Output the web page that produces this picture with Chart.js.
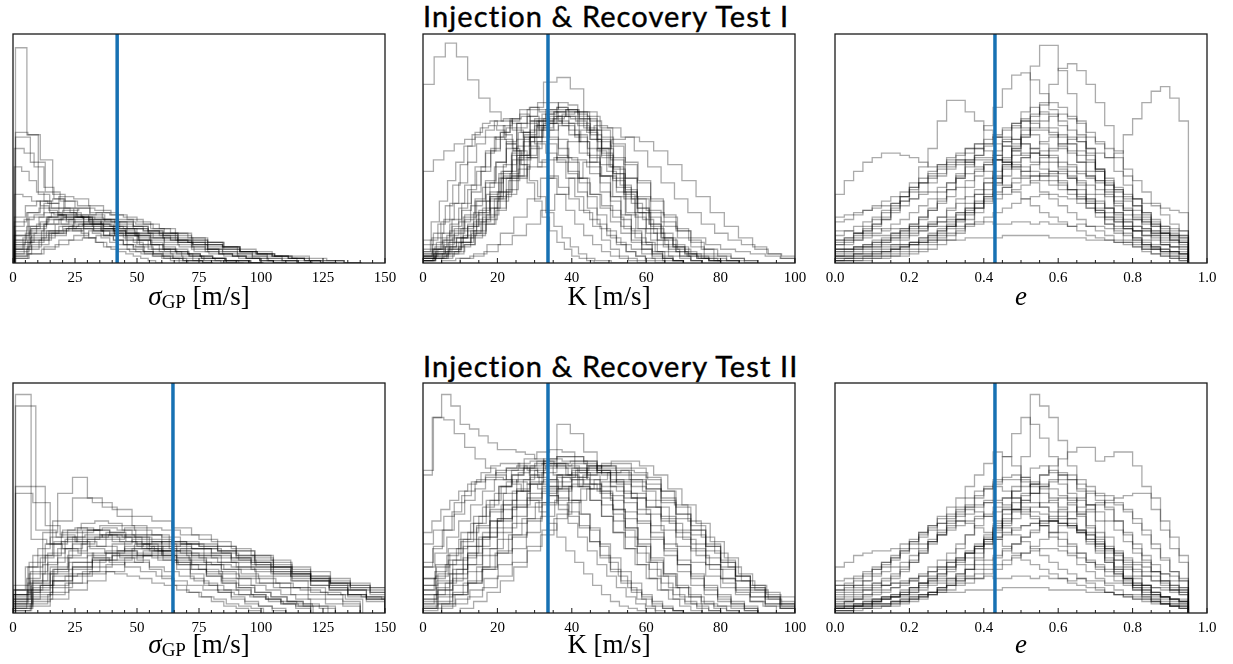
<!DOCTYPE html>
<html lang="en">
<head>
<meta charset="UTF-8">
<title>Injection &amp; Recovery Tests</title>
<script src="https://cdn.jsdelivr.net/npm/chart.js"></script>
<style>
    body { margin: 0; background: #fff; }
    .page { position: relative; width: 1233px; height: 664px; overflow: hidden; }
    .title {
        position: absolute;
        left: 423px;
        font-family: Lato, 'Noto Sans', sans-serif;
        font-size: 29px;
        letter-spacing: 1.1px;
        -webkit-text-stroke: 0.4px #000;
        line-height: 1;
        color: #000;
        white-space: nowrap;
    }
    canvas { position: absolute; }
    .xlabel {
        position: absolute;
        width: 372px;
        text-align: center;
        font-family: 'Liberation Serif', 'DejaVu Serif', serif;
        font-size: 27px;
        line-height: 1;
        color: #000;
    }
    .xlabel sub { font-size: 19px; vertical-align: -3px; }
</style>
</head>
<body>
<div class="page">
    <div class="title" style="top:1px">Injection &amp; Recovery Test I</div>
    <div class="title" style="top:351px">Injection &amp; Recovery Test II</div>

    <canvas id="sigma1" width="420" height="263" style="left:-11px;top:30px"></canvas>
    <canvas id="k1" width="420" height="263" style="left:399px;top:30px"></canvas>
    <canvas id="ecc1" width="420" height="263" style="left:811px;top:30px"></canvas>
    <canvas id="sigma2" width="420" height="264" style="left:-11px;top:379px"></canvas>
    <canvas id="k2" width="420" height="264" style="left:399px;top:379px"></canvas>
    <canvas id="ecc2" width="420" height="264" style="left:811px;top:379px"></canvas>

    <div class="xlabel" style="left:13px;top:283px"><i>σ</i><sub>GP</sub> [m/s]</div>
    <div class="xlabel" style="left:423px;top:283px">K [m/s]</div>
    <div class="xlabel" style="left:835px;top:283px"><i>e</i></div>
    <div class="xlabel" style="left:13px;top:631px"><i>σ</i><sub>GP</sub> [m/s]</div>
    <div class="xlabel" style="left:423px;top:631px">K [m/s]</div>
    <div class="xlabel" style="left:835px;top:631px"><i>e</i></div>
</div>
<script>
    // injected values (blue lines)
    const sigmaTrue = [42, 64.5];
    const kTrue = [33.6, 33.6];
    const eccTrue = [0.43, 0.43];

    // tick labels
    const sigmaTicks = [0, 25, 50, 75, 100, 125, 150];
    const kTicks = [0, 20, 40, 60, 80, 100];
    const eccTicks = ['0.0', '0.2', '0.4', '0.6', '0.8', '1.0'];

    // posterior histograms, heights in % of panel height; each row has its own [lo, hi] range
    const sigma1Ranges = [[1, 93], [1, 101], [1, 121], [0.5, 80.5], [0.5, 120.5], [0.5, 130.5], [1, 101], [0.5, 110.5], [0.5, 140.5],
        [0.5, 90.5], [0.5, 120.5], [0.5, 100.5], [0.5, 130.5], [0.5, 80.5], [0.5, 110.5], [0.5, 70.5], [0.5, 140.5], [0.5, 60.5],
        [0.5, 100.5], [0.5, 120.5], [0.5, 90.5], [0.5, 110.5], [0.5, 130.5], [0.5, 80.5], [0.5, 100.5], [0.5, 140.5], [0.5, 70.5], [0.5, 120.5]];
    const sigma1Counts = [
        [94, 56, 30, 22, 17, 14, 11, 9, 7, 6, 5, 4, 3, 2, 2, 1, 1, 1, 0, 0],
        [57, 56, 45, 30, 24, 20, 17, 14, 12, 10, 8, 6, 5, 4, 3, 2, 2, 1, 1, 0],
        [55, 44, 31, 27, 24, 21, 18, 15, 12, 10, 8, 7, 5, 4, 3, 2, 2, 1, 1, 0],
        [50, 48, 42, 33, 28, 24, 20, 17, 14, 12, 10, 8, 6, 5, 4, 3, 2, 1, 1, 0],
        [12, 20, 26, 29, 28, 25, 22, 19, 16, 13, 11, 9, 7, 5, 4, 3, 2, 1, 1, 0],
        [8, 15, 20, 23, 24, 23, 21, 19, 17, 15, 13, 11, 9, 7, 5, 4, 3, 2, 1, 0],
        [14, 22, 27, 28, 27, 25, 22, 19, 16, 13, 10, 8, 6, 5, 3, 2, 2, 1, 0, 0],
        [6, 10, 14, 17, 19, 21, 22, 21, 20, 18, 15, 13, 10, 8, 6, 4, 3, 2, 1, 0],
        [4, 8, 12, 15, 17, 18, 18, 17, 15, 13, 11, 9, 7, 5, 4, 3, 2, 1, 1, 0],
        [20, 25, 27, 26, 24, 22, 20, 17, 15, 12, 10, 8, 6, 5, 4, 3, 2, 1, 1, 0],
        [10, 14, 17, 19, 20, 20, 19, 17, 15, 13, 11, 9, 8, 6, 5, 4, 3, 2, 1, 0],
        [3, 6, 10, 13, 15, 16, 16, 15, 14, 12, 10, 8, 6, 5, 4, 3, 2, 1, 1, 0],
        [7, 11, 14, 16, 17, 17, 16, 15, 14, 13, 12, 10, 9, 7, 6, 5, 3, 2, 1, 0],
        [16, 19, 21, 22, 21, 20, 18, 16, 14, 12, 10, 8, 7, 5, 4, 3, 2, 1, 1, 0],
        [2, 4, 6, 8, 10, 11, 12, 13, 13, 12, 11, 10, 9, 7, 6, 4, 3, 2, 1, 0],
        [30, 29, 27, 25, 23, 21, 19, 17, 15, 13, 11, 9, 8, 6, 5, 4, 3, 2, 1, 0],
        [9, 12, 14, 15, 15, 14, 13, 12, 11, 10, 9, 8, 6, 5, 4, 3, 2, 1, 1, 0],
        [42, 40, 36, 31, 27, 24, 21, 18, 15, 13, 11, 9, 7, 6, 5, 4, 3, 2, 1, 0],
        [10, 16, 20, 22, 22, 21, 19, 17, 15, 13, 11, 9, 7, 6, 4, 3, 2, 1, 1, 0],
        [5, 9, 13, 16, 18, 19, 19, 18, 16, 14, 12, 10, 8, 6, 5, 4, 3, 2, 1, 0],
        [8, 13, 17, 20, 21, 21, 20, 18, 16, 14, 12, 10, 8, 6, 5, 4, 3, 2, 1, 0],
        [3, 7, 11, 14, 16, 17, 17, 16, 15, 13, 11, 9, 8, 6, 5, 4, 3, 2, 1, 0],
        [12, 16, 19, 20, 20, 19, 18, 16, 14, 12, 10, 9, 7, 6, 5, 4, 3, 2, 1, 0],
        [4, 9, 13, 17, 19, 20, 20, 19, 17, 15, 13, 11, 9, 7, 5, 4, 3, 2, 1, 0],
        [18, 22, 24, 24, 22, 20, 18, 16, 14, 12, 10, 8, 6, 5, 4, 3, 2, 1, 1, 0],
        [6, 10, 13, 14, 15, 15, 14, 13, 12, 10, 9, 8, 7, 5, 4, 3, 3, 2, 1, 0],
        [6, 11, 15, 18, 20, 21, 21, 20, 18, 16, 14, 12, 10, 8, 7, 5, 4, 3, 2, 1],
        [2, 4, 7, 10, 12, 14, 15, 15, 15, 14, 13, 11, 10, 8, 7, 5, 4, 3, 2, 1]
    ];

    const k1Ranges = [[0, 75], [0, 90], [0, 80], [0, 75], [0, 70], [0, 80], [0, 65], [0, 85], [0, 85],
        [0, 60], [10, 100], [0, 100], [0, 55], [0, 70], [5, 100], [0, 70], [0, 90], [0, 65],
        [0, 75], [0, 70], [0, 80], [0, 65], [0, 90], [0, 60], [5, 80], [0, 70], [0, 85], [0, 50]];
    const k1Counts = [
        [78, 90, 96, 90, 80, 72, 66, 62, 58, 55, 52, 48, 44, 40, 35, 30, 25, 20, 15, 11, 8, 5, 3, 2, 1],
        [2, 4, 7, 12, 19, 28, 40, 54, 68, 79, 81, 76, 66, 54, 42, 31, 22, 15, 10, 6, 4, 2, 1, 1, 0],
        [1, 2, 4, 7, 11, 17, 24, 32, 41, 50, 58, 64, 67, 66, 62, 55, 46, 37, 28, 20, 13, 8, 5, 3, 1],
        [2, 4, 7, 11, 16, 22, 29, 37, 45, 53, 60, 65, 68, 67, 63, 56, 48, 39, 30, 22, 15, 10, 6, 3, 1],
        [3, 6, 10, 15, 21, 28, 36, 44, 52, 59, 64, 67, 66, 62, 56, 48, 39, 31, 23, 16, 10, 6, 3, 2, 1],
        [1, 3, 5, 9, 14, 20, 28, 37, 46, 55, 62, 66, 67, 64, 58, 50, 41, 32, 24, 17, 11, 7, 4, 2, 1],
        [4, 8, 13, 19, 26, 34, 42, 50, 57, 62, 65, 64, 60, 54, 47, 39, 31, 24, 17, 12, 8, 5, 3, 2, 1],
        [1, 3, 6, 11, 18, 27, 37, 47, 56, 62, 64, 61, 55, 47, 38, 29, 21, 15, 10, 7, 5, 3, 2, 1, 1],
        [2, 5, 9, 15, 22, 30, 39, 48, 55, 60, 62, 60, 56, 50, 43, 36, 29, 22, 16, 11, 7, 4, 3, 2, 1],
        [6, 11, 18, 26, 35, 44, 52, 58, 62, 63, 61, 57, 51, 44, 37, 30, 23, 17, 12, 8, 5, 3, 2, 1, 0],
        [2, 4, 8, 13, 20, 28, 37, 46, 53, 58, 60, 59, 55, 49, 42, 35, 28, 22, 17, 13, 10, 8, 6, 4, 3],
        [3, 6, 11, 17, 24, 31, 37, 42, 45, 46, 45, 42, 38, 33, 28, 23, 18, 14, 11, 8, 6, 5, 4, 3, 2],
        [10, 18, 27, 36, 44, 51, 56, 59, 60, 58, 54, 49, 43, 36, 29, 22, 16, 11, 7, 4, 2, 1, 1, 0, 0],
        [1, 2, 3, 5, 8, 12, 17, 23, 30, 38, 46, 53, 58, 60, 58, 53, 46, 38, 29, 21, 14, 9, 5, 3, 1],
        [1, 2, 3, 5, 8, 12, 17, 23, 30, 37, 44, 50, 54, 55, 53, 49, 43, 36, 29, 22, 16, 11, 7, 4, 2],
        [40, 45, 49, 52, 54, 55, 55, 54, 52, 49, 46, 42, 38, 33, 28, 23, 19, 15, 11, 8, 6, 4, 2, 1, 1],
        [5, 9, 14, 20, 27, 35, 43, 51, 58, 63, 66, 66, 63, 58, 51, 43, 35, 27, 20, 14, 9, 6, 4, 2, 1],
        [1, 2, 4, 6, 9, 13, 18, 24, 31, 39, 47, 55, 62, 67, 70, 69, 65, 58, 49, 40, 31, 22, 15, 9, 5],
        [2, 4, 7, 11, 16, 23, 31, 40, 49, 57, 63, 67, 68, 66, 61, 54, 46, 37, 28, 20, 13, 8, 5, 3, 1],
        [2, 4, 8, 13, 19, 27, 35, 44, 53, 61, 67, 70, 70, 67, 61, 53, 44, 35, 27, 19, 13, 8, 4, 2, 1],
        [4, 7, 12, 18, 25, 33, 42, 50, 57, 62, 65, 66, 64, 60, 54, 47, 39, 31, 24, 17, 11, 7, 4, 2, 1],
        [3, 6, 10, 16, 23, 31, 40, 49, 57, 63, 67, 68, 66, 61, 54, 46, 37, 29, 21, 14, 9, 5, 3, 1, 0],
        [3, 5, 9, 14, 21, 29, 38, 47, 55, 61, 64, 63, 59, 53, 45, 37, 29, 22, 16, 11, 7, 4, 3, 2, 1],
        [3, 6, 11, 17, 24, 32, 40, 48, 55, 60, 63, 64, 62, 58, 52, 45, 37, 29, 22, 16, 10, 6, 3, 2, 1],
        [2, 4, 8, 13, 19, 27, 36, 45, 53, 59, 63, 64, 62, 57, 50, 42, 34, 26, 19, 13, 8, 5, 3, 2, 1],
        [8, 13, 19, 26, 34, 42, 49, 55, 59, 61, 61, 59, 55, 50, 44, 37, 30, 24, 18, 13, 9, 6, 4, 2, 1],
        [1, 2, 5, 9, 14, 21, 29, 38, 47, 55, 61, 65, 66, 64, 59, 52, 44, 36, 28, 21, 15, 10, 6, 3, 1],
        [5, 10, 17, 25, 34, 43, 51, 57, 61, 62, 60, 56, 50, 43, 35, 27, 20, 14, 9, 6, 3, 2, 1, 0, 0]
    ];

    // eccentricity histograms share 38 bins over [0, 0.95]
    const eccRange = [0, 0.95];
    const ecc1Counts = [
        [2, 2, 3, 3, 4, 5, 6, 7, 8, 10, 12, 14, 16, 19, 22, 26, 30, 34, 38, 42, 46, 50, 53, 55, 56, 55, 53, 50, 48, 46, 48, 56, 63, 70, 75, 77, 72, 62],
        [1, 1, 1, 1, 2, 2, 3, 3, 4, 5, 6, 8, 10, 13, 17, 22, 28, 35, 43, 51, 62, 86, 95, 95, 84, 74, 62, 50, 40, 30, 22, 15, 10, 6, 4, 3, 2, 1],
        [1, 2, 2, 3, 3, 4, 5, 6, 8, 9, 11, 13, 16, 19, 23, 27, 32, 37, 43, 49, 55, 62, 70, 78, 85, 87, 84, 78, 70, 60, 49, 38, 28, 20, 13, 8, 5, 3],
        [30, 36, 40, 44, 46, 48, 48, 47, 46, 44, 42, 42, 43, 44, 45, 46, 46, 45, 44, 42, 40, 38, 36, 34, 32, 30, 28, 26, 24, 22, 20, 18, 16, 15, 14, 13, 12, 11],
        [8, 10, 12, 14, 17, 20, 24, 29, 35, 42, 50, 62, 71, 71, 66, 62, 58, 55, 53, 52, 52, 48, 44, 40, 36, 32, 28, 24, 20, 17, 14, 12, 10, 8, 7, 6, 5, 4],
        [3, 4, 5, 6, 7, 9, 11, 13, 16, 19, 23, 27, 32, 38, 45, 52, 60, 68, 76, 82, 83, 80, 74, 67, 60, 52, 44, 37, 30, 24, 19, 15, 11, 8, 6, 4, 3, 2],
        [8, 9, 10, 12, 13, 15, 17, 19, 22, 25, 28, 31, 35, 39, 43, 47, 51, 55, 58, 61, 62, 61, 59, 56, 52, 48, 44, 40, 35, 31, 27, 23, 20, 17, 14, 12, 10, 9],
        [5, 6, 7, 8, 10, 11, 13, 15, 17, 20, 23, 26, 29, 33, 36, 40, 44, 47, 51, 54, 56, 58, 58, 57, 55, 52, 49, 45, 41, 36, 32, 27, 23, 19, 16, 13, 11, 9],
        [12, 14, 16, 18, 20, 23, 26, 29, 32, 35, 38, 41, 44, 47, 50, 52, 54, 55, 55, 54, 52, 50, 47, 44, 41, 37, 34, 30, 27, 24, 21, 18, 16, 14, 12, 11, 10, 9],
        [2, 2, 3, 3, 4, 5, 6, 7, 9, 11, 13, 15, 18, 22, 26, 30, 35, 40, 45, 50, 55, 59, 62, 64, 65, 64, 61, 57, 52, 46, 40, 34, 28, 22, 17, 13, 10, 7],
        [14, 14, 13, 14, 15, 14, 15, 15, 16, 15, 16, 16, 17, 16, 17, 17, 18, 17, 17, 18, 18, 17, 18, 17, 17, 16, 17, 16, 16, 15, 15, 15, 14, 14, 13, 13, 12, 12],
        [18, 19, 21, 23, 25, 27, 29, 31, 33, 35, 37, 39, 41, 43, 44, 45, 45, 45, 44, 43, 42, 40, 38, 36, 34, 32, 30, 28, 26, 24, 22, 21, 19, 18, 17, 16, 15, 14],
        [1, 1, 1, 2, 2, 3, 3, 4, 5, 6, 8, 10, 12, 15, 19, 24, 29, 35, 42, 50, 58, 64, 69, 70, 68, 63, 56, 48, 40, 32, 25, 19, 14, 10, 7, 5, 3, 2],
        [6, 8, 10, 13, 16, 19, 23, 27, 31, 35, 39, 43, 46, 48, 50, 50, 49, 47, 44, 41, 38, 35, 31, 28, 25, 22, 19, 16, 14, 12, 10, 9, 8, 7, 6, 5, 4, 4],
        [3, 3, 4, 4, 5, 6, 7, 8, 9, 11, 12, 14, 16, 18, 21, 24, 27, 30, 33, 37, 40, 43, 46, 49, 52, 54, 55, 55, 53, 50, 46, 41, 36, 31, 26, 21, 17, 14],
        [6, 6, 7, 7, 7, 8, 8, 8, 9, 9, 9, 10, 10, 10, 11, 11, 11, 11, 12, 12, 12, 12, 12, 11, 11, 11, 11, 10, 10, 10, 9, 9, 9, 8, 8, 8, 7, 7],
        [3, 3, 4, 4, 5, 5, 6, 7, 8, 9, 10, 11, 13, 14, 16, 18, 20, 22, 24, 26, 28, 29, 30, 30, 29, 28, 26, 24, 22, 20, 18, 16, 14, 12, 10, 8, 7, 6],
        [10, 10, 11, 11, 12, 12, 13, 14, 15, 16, 17, 18, 19, 21, 22, 24, 26, 28, 30, 32, 34, 36, 38, 39, 40, 40, 39, 38, 36, 34, 31, 28, 25, 22, 19, 16, 14, 12],
        [4, 5, 6, 7, 9, 10, 12, 14, 17, 20, 24, 28, 32, 37, 42, 47, 52, 56, 59, 60, 59, 56, 52, 47, 42, 37, 32, 27, 23, 19, 16, 13, 11, 9, 7, 6, 5, 4],
        [3, 3, 4, 5, 6, 7, 8, 10, 12, 14, 17, 20, 24, 28, 33, 38, 43, 49, 54, 59, 63, 65, 66, 65, 62, 58, 53, 47, 41, 35, 29, 24, 19, 15, 12, 9, 7, 5],
        [10, 11, 13, 15, 17, 19, 22, 25, 28, 31, 35, 38, 42, 45, 48, 50, 52, 52, 51, 49, 47, 44, 41, 38, 35, 32, 29, 26, 23, 20, 18, 16, 14, 12, 11, 10, 9, 8],
        [6, 6, 7, 8, 9, 10, 11, 12, 14, 16, 18, 20, 23, 26, 29, 32, 35, 38, 41, 44, 46, 48, 49, 50, 50, 49, 47, 44, 41, 37, 33, 29, 25, 21, 18, 15, 13, 11],
        [20, 21, 22, 23, 24, 25, 26, 27, 28, 30, 31, 33, 35, 37, 39, 41, 43, 45, 46, 47, 48, 48, 47, 46, 44, 42, 40, 38, 36, 34, 32, 30, 28, 26, 25, 24, 23, 22],
        [1, 1, 2, 2, 3, 3, 4, 5, 6, 8, 10, 12, 15, 19, 24, 30, 37, 45, 53, 61, 66, 68, 65, 59, 51, 43, 35, 28, 22, 17, 13, 10, 7, 5, 4, 3, 2, 1],
        [9, 11, 13, 16, 19, 22, 25, 29, 33, 37, 40, 43, 45, 45, 44, 42, 40, 37, 34, 31, 28, 25, 22, 20, 18, 16, 14, 12, 11, 10, 9, 8, 7, 6, 6, 5, 5, 4],
        [5, 5, 6, 7, 8, 9, 10, 11, 13, 14, 16, 18, 20, 22, 24, 26, 29, 31, 33, 35, 37, 38, 39, 40, 39, 38, 36, 34, 32, 29, 26, 23, 21, 18, 16, 14, 12, 10]
    ];

    const sigma2Ranges = [[1, 127], [1, 165], [1, 121], [1, 141], [0, 120], [0, 160], [0, 150], [0, 160], [0, 140],
        [0, 150], [0, 130], [0, 160], [0, 120], [0, 150], [0, 100], [0, 160], [0, 110], [1, 101],
        [0, 150], [0, 140], [0, 160], [0, 130], [0, 150], [0, 120], [0, 160], [0, 110], [0, 150], [0, 140]];
    const sigma2Counts = [
        [95, 32, 30, 28, 26, 24, 22, 20, 18, 16, 14, 12, 10, 9, 8, 7, 6, 5, 4, 3],
        [90, 36, 33, 31, 29, 27, 25, 23, 21, 19, 17, 15, 13, 11, 10, 9, 8, 7, 6, 5],
        [55, 55, 38, 34, 31, 28, 26, 24, 22, 20, 18, 16, 14, 12, 10, 8, 7, 5, 4, 3],
        [52, 48, 30, 33, 34, 33, 31, 29, 27, 25, 23, 21, 19, 17, 15, 13, 11, 9, 8, 6],
        [8, 20, 35, 52, 59, 50, 46, 42, 38, 34, 30, 27, 24, 21, 18, 15, 12, 10, 8, 6],
        [10, 25, 40, 50, 48, 45, 42, 40, 37, 34, 31, 28, 25, 23, 20, 18, 15, 13, 11, 9],
        [5, 12, 20, 27, 32, 35, 37, 37, 36, 34, 32, 29, 27, 24, 21, 18, 15, 12, 10, 7],
        [3, 8, 14, 20, 26, 30, 32, 32, 30, 28, 26, 24, 22, 20, 18, 16, 14, 12, 10, 8],
        [8, 18, 26, 32, 36, 38, 38, 36, 34, 31, 28, 25, 22, 19, 16, 13, 11, 8, 6, 4],
        [2, 5, 9, 13, 17, 21, 24, 27, 29, 30, 30, 29, 27, 25, 22, 19, 16, 13, 10, 7],
        [12, 22, 30, 35, 37, 36, 34, 31, 28, 25, 22, 19, 16, 13, 11, 9, 7, 5, 4, 3],
        [6, 11, 16, 20, 23, 25, 26, 27, 27, 26, 25, 23, 21, 19, 17, 15, 13, 11, 9, 7],
        [4, 10, 17, 24, 30, 33, 34, 33, 31, 28, 25, 22, 19, 16, 13, 10, 8, 6, 4, 3],
        [1, 3, 6, 10, 14, 18, 22, 25, 27, 28, 28, 27, 25, 22, 20, 17, 14, 11, 8, 6],
        [10, 20, 28, 33, 36, 37, 36, 34, 31, 27, 23, 19, 15, 12, 9, 7, 5, 3, 2, 1],
        [8, 14, 19, 22, 24, 25, 25, 24, 23, 22, 21, 20, 19, 17, 16, 14, 13, 12, 11, 10],
        [2, 6, 12, 19, 25, 30, 33, 34, 33, 30, 27, 23, 19, 15, 12, 9, 6, 4, 3, 1],
        [10, 9, 12, 14, 16, 17, 18, 18, 17, 16, 15, 13, 12, 10, 9, 7, 6, 4, 3, 2],
        [4, 10, 17, 24, 29, 32, 34, 34, 33, 31, 29, 27, 24, 21, 18, 15, 12, 10, 7, 5],
        [6, 14, 22, 28, 32, 34, 34, 33, 31, 28, 25, 22, 19, 16, 13, 11, 8, 6, 4, 3],
        [2, 6, 11, 16, 20, 23, 25, 26, 26, 25, 24, 22, 20, 18, 16, 14, 12, 10, 8, 6],
        [8, 17, 25, 31, 35, 36, 35, 33, 30, 27, 24, 21, 18, 15, 12, 9, 7, 5, 3, 2],
        [3, 7, 12, 17, 22, 26, 29, 30, 31, 30, 29, 27, 25, 23, 20, 17, 14, 11, 8, 6],
        [5, 13, 21, 28, 33, 36, 37, 36, 34, 31, 28, 24, 21, 17, 14, 11, 8, 6, 4, 2],
        [4, 9, 14, 19, 23, 26, 28, 29, 29, 28, 26, 24, 22, 20, 17, 15, 13, 11, 9, 7],
        [6, 15, 24, 31, 36, 39, 40, 39, 36, 33, 29, 25, 21, 17, 13, 10, 7, 5, 3, 2],
        [7, 13, 18, 22, 25, 27, 28, 28, 27, 26, 24, 22, 20, 18, 16, 14, 12, 10, 8, 6],
        [1, 4, 8, 13, 18, 23, 27, 30, 31, 31, 30, 28, 26, 23, 20, 17, 14, 11, 8, 5]
    ];

    const k2Ranges = [[0, 62.5], [0, 70], [0, 90], [0, 90], [0, 100], [0, 80], [5, 100], [0, 100], [0, 70],
        [0, 85], [0, 100], [0, 60], [10, 100], [0, 75], [0, 90], [0, 100], [0, 65], [0, 100],
        [0, 90], [0, 80], [0, 100], [0, 70], [0, 100], [5, 95], [0, 85], [0, 100], [0, 75], [0, 90]];
    const k2Counts = [
        [60, 85, 95, 90, 82, 80, 77, 74, 71, 71, 70, 69, 67, 64, 60, 55, 49, 43, 36, 29, 22, 16, 11, 6, 3],
        [62, 85, 84, 78, 72, 67, 63, 60, 58, 57, 56, 54, 51, 47, 42, 37, 31, 25, 19, 14, 10, 7, 4, 2, 1],
        [2, 4, 8, 13, 20, 28, 37, 47, 57, 67, 82, 78, 70, 61, 51, 41, 32, 24, 17, 11, 7, 4, 3, 2, 1],
        [8, 14, 21, 29, 37, 45, 52, 58, 63, 66, 68, 68, 66, 62, 57, 50, 43, 35, 28, 21, 15, 10, 6, 4, 2],
        [5, 10, 17, 25, 33, 41, 49, 56, 61, 64, 65, 64, 61, 56, 50, 43, 36, 29, 22, 16, 11, 8, 5, 3, 2],
        [20, 26, 33, 40, 47, 53, 58, 62, 65, 66, 66, 64, 60, 55, 49, 42, 35, 28, 21, 15, 10, 6, 4, 2, 1],
        [3, 6, 10, 15, 21, 28, 35, 42, 49, 55, 60, 64, 66, 66, 64, 60, 54, 47, 39, 31, 24, 17, 12, 8, 5],
        [2, 5, 9, 14, 20, 27, 34, 41, 48, 54, 59, 63, 65, 65, 63, 59, 53, 46, 38, 30, 23, 16, 11, 7, 4],
        [30, 36, 42, 48, 53, 57, 60, 62, 63, 63, 62, 59, 55, 50, 44, 38, 31, 24, 18, 13, 9, 6, 3, 2, 1],
        [10, 16, 23, 31, 39, 47, 55, 62, 67, 70, 71, 70, 66, 60, 53, 45, 37, 29, 22, 16, 11, 7, 4, 2, 1],
        [12, 17, 23, 29, 35, 41, 46, 50, 53, 55, 56, 56, 55, 53, 50, 46, 41, 36, 30, 24, 19, 14, 10, 7, 4],
        [35, 40, 45, 49, 53, 56, 58, 59, 59, 58, 56, 53, 49, 44, 39, 33, 27, 22, 17, 12, 8, 5, 3, 2, 1],
        [2, 5, 9, 14, 20, 27, 34, 41, 48, 54, 58, 61, 62, 61, 58, 53, 47, 40, 33, 26, 20, 14, 10, 6, 3],
        [4, 8, 13, 19, 26, 33, 40, 47, 53, 58, 62, 64, 65, 64, 61, 56, 50, 43, 36, 29, 22, 16, 11, 7, 4],
        [15, 20, 26, 32, 38, 44, 49, 53, 56, 58, 59, 58, 56, 53, 49, 44, 39, 33, 27, 21, 16, 12, 8, 5, 3],
        [1, 2, 4, 7, 11, 16, 22, 29, 36, 43, 49, 54, 57, 58, 57, 54, 49, 43, 36, 29, 22, 16, 12, 9, 7],
        [20, 28, 36, 44, 51, 57, 61, 64, 65, 65, 63, 60, 56, 51, 45, 39, 33, 27, 21, 16, 11, 7, 4, 2, 1],
        [6, 10, 15, 21, 28, 35, 42, 49, 55, 60, 63, 64, 63, 60, 55, 49, 42, 35, 28, 21, 15, 10, 7, 4, 2],
        [6, 11, 17, 24, 32, 40, 47, 54, 59, 63, 65, 66, 65, 62, 58, 52, 45, 38, 30, 23, 17, 11, 7, 4, 2],
        [12, 18, 25, 32, 39, 46, 52, 57, 61, 64, 65, 65, 63, 59, 54, 47, 40, 33, 26, 19, 13, 8, 5, 3, 1],
        [3, 7, 12, 18, 25, 32, 39, 46, 52, 57, 61, 63, 64, 63, 60, 56, 50, 43, 36, 29, 22, 16, 11, 7, 4],
        [22, 29, 36, 43, 49, 54, 58, 61, 63, 64, 63, 61, 58, 54, 49, 43, 37, 30, 24, 18, 13, 8, 5, 3, 1],
        [8, 13, 19, 26, 33, 40, 46, 52, 57, 60, 62, 62, 60, 57, 52, 46, 40, 33, 27, 21, 15, 11, 7, 4, 2],
        [4, 8, 13, 19, 26, 34, 41, 48, 54, 59, 62, 64, 64, 62, 58, 53, 46, 39, 32, 25, 19, 13, 9, 5, 3],
        [15, 21, 28, 35, 42, 49, 55, 60, 64, 66, 67, 66, 63, 58, 52, 45, 37, 30, 23, 17, 12, 8, 5, 3, 1],
        [2, 4, 8, 13, 19, 26, 33, 40, 47, 53, 58, 61, 62, 61, 58, 54, 48, 41, 34, 27, 20, 14, 9, 6, 3],
        [10, 15, 21, 28, 35, 42, 49, 55, 60, 63, 65, 65, 63, 60, 55, 49, 42, 35, 28, 21, 15, 10, 6, 3, 1],
        [4, 8, 14, 21, 29, 37, 45, 53, 60, 65, 68, 68, 66, 61, 55, 48, 40, 32, 25, 18, 12, 8, 5, 3, 1]
    ];

    const ecc2Counts = [
        [1, 1, 1, 2, 2, 3, 3, 4, 5, 6, 8, 10, 12, 15, 19, 24, 30, 37, 45, 55, 68, 95, 90, 85, 75, 64, 54, 44, 35, 27, 20, 15, 11, 8, 6, 4, 3, 2],
        [2, 2, 3, 4, 5, 6, 7, 9, 11, 13, 16, 19, 23, 28, 34, 41, 49, 58, 68, 78, 85, 82, 76, 68, 60, 52, 44, 37, 30, 24, 19, 15, 11, 8, 6, 4, 3, 2],
        [2, 3, 3, 4, 5, 6, 7, 8, 10, 12, 14, 16, 19, 22, 26, 30, 34, 38, 43, 48, 52, 56, 60, 64, 67, 70, 72, 72, 66, 68, 70, 70, 64, 55, 45, 36, 28, 22],
        [3, 3, 4, 4, 5, 6, 7, 8, 9, 10, 12, 13, 15, 17, 19, 21, 23, 25, 28, 30, 33, 35, 38, 40, 42, 44, 46, 47, 48, 49, 50, 51, 52, 52, 50, 40, 33, 25],
        [20, 22, 25, 26, 27, 27, 28, 30, 32, 35, 38, 42, 46, 50, 55, 60, 65, 70, 68, 64, 58, 52, 46, 40, 35, 30, 26, 22, 19, 16, 14, 12, 10, 9, 8, 7, 6, 5],
        [6, 7, 8, 10, 12, 14, 16, 19, 22, 26, 30, 34, 38, 42, 46, 50, 54, 57, 59, 60, 59, 57, 54, 50, 46, 41, 36, 31, 27, 23, 19, 16, 13, 11, 9, 7, 6, 5],
        [3, 4, 4, 5, 6, 7, 8, 10, 11, 13, 15, 17, 20, 23, 26, 29, 33, 37, 41, 45, 49, 52, 55, 57, 58, 58, 56, 53, 49, 45, 40, 35, 30, 25, 21, 17, 14, 11],
        [14, 15, 16, 18, 20, 22, 24, 26, 28, 30, 32, 34, 36, 38, 40, 42, 43, 44, 45, 45, 45, 44, 43, 41, 39, 37, 35, 32, 30, 28, 26, 24, 22, 20, 18, 17, 16, 15],
        [1, 1, 2, 2, 3, 3, 4, 5, 6, 7, 9, 11, 13, 16, 19, 23, 28, 33, 39, 45, 51, 56, 60, 62, 61, 58, 53, 47, 40, 33, 27, 21, 16, 12, 9, 6, 4, 3],
        [8, 10, 12, 14, 17, 20, 23, 27, 31, 35, 38, 41, 43, 45, 45, 44, 42, 40, 37, 34, 31, 28, 25, 22, 19, 17, 15, 13, 11, 9, 8, 7, 6, 5, 4, 4, 3, 3],
        [12, 12, 11, 12, 13, 12, 13, 13, 14, 13, 14, 14, 15, 14, 15, 15, 16, 15, 15, 16, 16, 15, 16, 15, 15, 14, 15, 14, 14, 13, 13, 13, 12, 12, 11, 11, 10, 10],
        [2, 2, 3, 3, 4, 4, 5, 6, 7, 8, 9, 11, 12, 14, 16, 19, 21, 24, 27, 30, 33, 36, 39, 42, 45, 48, 50, 52, 52, 51, 48, 44, 39, 34, 28, 23, 18, 14],
        [4, 5, 6, 8, 10, 12, 15, 18, 22, 26, 31, 36, 41, 46, 50, 53, 55, 55, 53, 50, 46, 42, 38, 33, 29, 25, 21, 18, 15, 12, 10, 8, 7, 6, 5, 4, 3, 3],
        [5, 5, 6, 6, 6, 7, 7, 7, 8, 8, 8, 9, 9, 9, 10, 10, 10, 10, 11, 11, 11, 11, 11, 10, 10, 10, 10, 9, 9, 9, 8, 8, 8, 7, 7, 7, 6, 6],
        [10, 11, 12, 14, 16, 18, 20, 22, 25, 28, 31, 34, 37, 40, 43, 46, 48, 49, 50, 50, 49, 48, 46, 44, 41, 38, 35, 32, 29, 26, 23, 20, 18, 16, 14, 13, 12, 11],
        [2, 2, 3, 3, 4, 4, 5, 5, 6, 7, 8, 9, 10, 12, 13, 15, 17, 19, 21, 24, 26, 29, 32, 35, 38, 41, 43, 45, 47, 48, 47, 45, 41, 36, 30, 24, 18, 14],
        [2, 2, 3, 3, 4, 4, 5, 6, 7, 8, 9, 10, 12, 13, 15, 17, 19, 21, 23, 25, 26, 27, 28, 28, 27, 26, 24, 22, 20, 18, 16, 14, 12, 10, 8, 7, 6, 5],
        [9, 9, 10, 10, 11, 12, 13, 14, 15, 16, 18, 20, 22, 24, 26, 28, 30, 32, 34, 36, 38, 39, 40, 40, 39, 38, 36, 34, 31, 28, 25, 22, 19, 16, 14, 12, 10, 9],
        [7, 8, 9, 11, 13, 15, 17, 20, 23, 27, 31, 35, 39, 43, 47, 51, 54, 56, 58, 58, 57, 55, 52, 48, 44, 39, 35, 30, 26, 22, 18, 15, 12, 10, 8, 7, 6, 5],
        [4, 5, 6, 7, 8, 9, 11, 13, 15, 17, 20, 23, 26, 30, 34, 38, 42, 46, 50, 53, 55, 56, 56, 54, 51, 47, 43, 38, 33, 28, 23, 19, 15, 12, 9, 7, 5, 4],
        [12, 13, 15, 17, 19, 21, 24, 27, 30, 33, 36, 39, 42, 44, 46, 47, 48, 48, 47, 45, 43, 41, 38, 35, 32, 29, 26, 23, 21, 19, 17, 15, 13, 12, 11, 10, 9, 8],
        [3, 3, 4, 5, 6, 7, 8, 9, 11, 13, 15, 17, 20, 23, 26, 29, 32, 35, 38, 41, 44, 46, 48, 49, 50, 50, 49, 47, 44, 40, 36, 31, 26, 22, 18, 14, 11, 9],
        [1, 1, 2, 2, 3, 3, 4, 5, 6, 7, 9, 11, 14, 17, 21, 26, 32, 39, 46, 53, 59, 63, 64, 61, 56, 49, 42, 35, 28, 22, 17, 13, 10, 7, 5, 4, 3, 2],
        [10, 12, 14, 16, 19, 22, 25, 28, 31, 34, 37, 39, 40, 40, 39, 37, 35, 32, 29, 26, 23, 21, 19, 17, 15, 13, 12, 11, 10, 9, 8, 7, 6, 6, 5, 5, 4, 4],
        [6, 6, 7, 8, 9, 10, 11, 12, 14, 16, 18, 20, 22, 24, 27, 29, 31, 33, 35, 37, 38, 39, 40, 40, 39, 38, 36, 34, 32, 29, 26, 23, 21, 18, 16, 14, 12, 10],
        [2, 3, 3, 4, 5, 6, 7, 8, 9, 11, 13, 15, 18, 21, 24, 28, 32, 36, 40, 44, 48, 52, 55, 58, 60, 60, 58, 55, 51, 46, 40, 34, 28, 23, 18, 14, 10, 8]
    ];

    Chart.defaults.font.family = "'Liberation Serif', serif";

    // outline of one step histogram, as points for a 'before'-stepped line
    function stepPoints(lo, hi, counts) {
        const w = (hi - lo) / counts.length;
        const pts = [{ x: lo, y: 0 }];
        counts.forEach((c, i) => pts.push({ x: lo + i * w, y: c }));
        pts.push({ x: hi, y: counts[counts.length - 1] });
        pts.push({ x: hi, y: 0 });
        return pts;
    }

    // box around the plot area and inward ticks on the bottom axis
    const framePlugin = {
        id: 'frame',
        afterDatasetsDraw(chart) {
            const { ctx, chartArea: a, scales: { x } } = chart;
            const opt = chart.options.plugins.frame;
            ctx.save();
            ctx.strokeStyle = '#1a1a1a';
            ctx.lineWidth = 1.3;
            ctx.strokeRect(a.left, a.top, a.right - a.left, a.bottom - a.top);
            ctx.lineWidth = 1;
            const n = Math.round((x.max - x.min) / opt.minor);
            for (let i = 0; i <= n; i++) {
                const v = x.min + i * opt.minor;
                const px = x.getPixelForValue(v);
                const major = Math.abs(v / opt.major - Math.round(v / opt.major)) < 1e-6;
                ctx.beginPath();
                ctx.moveTo(px, a.bottom);
                ctx.lineTo(px, a.bottom - (major ? 5 : 3));
                ctx.stroke();
            }
            ctx.restore();
        }
    };

    function drawPanel(id, ranges, counts, truth, axis) {
        const datasets = [{
            data: [{ x: truth, y: 0 }, { x: truth, y: 100 }],
            showLine: true,
            borderColor: '#1771b3',
            borderWidth: 3.5,
            pointRadius: 0
        }];
        counts.forEach((c, i) => {
            const r = ranges[i];
            datasets.push({
                data: stepPoints(r[0], r[1], c),
                showLine: true,
                stepped: 'before',
                borderColor: 'rgba(0, 0, 0, 0.33)',
                borderWidth: 1.3,
                pointRadius: 0,
                fill: false
            });
        });

        new Chart(document.getElementById(id), {
            type: 'scatter',
            data: { datasets },
            plugins: [framePlugin],
            options: {
                responsive: false,
                animation: false,
                devicePixelRatio: 1,
                layout: { padding: { left: 24, right: 24, top: 4, bottom: 0 } },
                plugins: {
                    legend: { display: false },
                    tooltip: { enabled: false },
                    frame: { major: axis.major, minor: axis.minor }
                },
                scales: {
                    x: {
                        type: 'linear',
                        min: axis.min,
                        max: axis.max,
                        afterFit: s => { s.height = 30; },
                        afterBuildTicks: s => { s.ticks = axis.ticks.map(t => ({ value: Number(t) })); },
                        ticks: {
                            autoSkip: false,
                            maxRotation: 0,
                            padding: 6,
                            color: '#000',
                            font: { family: "'Liberation Serif', serif", size: 15 },
                            callback: (v, i) => String(axis.ticks[i])
                        },
                        grid: { display: false, drawTicks: false },
                        border: { display: false }
                    },
                    y: { display: false, min: 0, max: 100 }
                }
            }
        });
    }

    const sigmaAxis = { min: 0, max: 150, major: 25, minor: 5, ticks: sigmaTicks };
    const kAxis = { min: 0, max: 100, major: 20, minor: 5, ticks: kTicks };
    const eccAxis = { min: 0, max: 1, major: 0.2, minor: 0.05, ticks: eccTicks };
    const eccRanges1 = ecc1Counts.map(() => eccRange);
    const eccRanges2 = ecc2Counts.map(() => eccRange);

    drawPanel('sigma1', sigma1Ranges, sigma1Counts, sigmaTrue[0], sigmaAxis);
    drawPanel('k1', k1Ranges, k1Counts, kTrue[0], kAxis);
    drawPanel('ecc1', eccRanges1, ecc1Counts, eccTrue[0], eccAxis);
    drawPanel('sigma2', sigma2Ranges, sigma2Counts, sigmaTrue[1], sigmaAxis);
    drawPanel('k2', k2Ranges, k2Counts, kTrue[1], kAxis);
    drawPanel('ecc2', eccRanges2, ecc2Counts, eccTrue[1], eccAxis);
</script>
</body>
</html>
